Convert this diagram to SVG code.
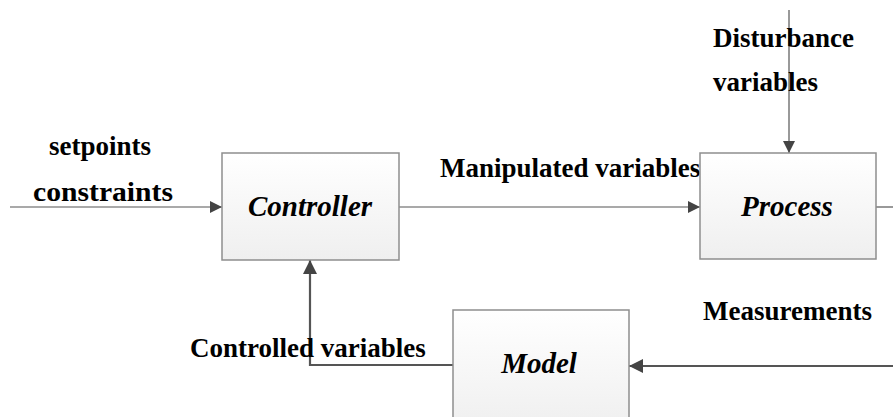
<svg xmlns="http://www.w3.org/2000/svg" width="893" height="417" viewBox="0 0 893 417" font-family="Liberation Serif, Times New Roman, serif">
  <defs>
    <linearGradient id="boxFill" x1="0" y1="0" x2="0" y2="1">
      <stop offset="0" stop-color="#ffffff"/>
      <stop offset="1" stop-color="#efefef"/>
    </linearGradient>
    <marker id="arrow" viewBox="0 0 12 12" refX="12" refY="6" markerWidth="12" markerHeight="12" markerUnits="userSpaceOnUse" orient="auto">
      <path d="M0,0 L12,6 L0,12 Z" fill="#444"/>
    </marker>
    <marker id="arrowBig" viewBox="0 0 14 14" refX="14" refY="7" markerWidth="14" markerHeight="14" markerUnits="userSpaceOnUse" orient="auto">
      <path d="M0,0 L14,7 L0,14 Z" fill="#444"/>
    </marker>
  </defs>
  <style>
    .box { fill: url(#boxFill); stroke: #8e8e8e; stroke-width: 1.5; }
    .title { font-size: 29px; font-weight: bold; font-style: italic; fill: #000; text-anchor: middle; }
    .label { font-size: 27px; font-weight: bold; fill: #000; }
    .thin { fill: none; stroke: #555; stroke-width: 1.2; }
    .thick { fill: none; stroke: #555; stroke-width: 2.2; }
  </style>

  <rect width="893" height="417" fill="#fff"/>

  <!-- signal flow -->
  <g id="connectors">
    <path class="thin" d="M10,207 H222" marker-end="url(#arrow)"/>
    <path class="thin" d="M399,207 H700" marker-end="url(#arrow)"/>
    <path class="thin" d="M789,10 V153" marker-end="url(#arrow)"/>
    <path class="thin" d="M876,207 H893"/>
    <path class="thick" d="M893,366 H629" marker-end="url(#arrowBig)"/>
    <path class="thick" d="M453,365 H310 V260" marker-end="url(#arrowBig)"/>
  </g>

  <!-- signal names -->
  <g id="labels">
    <text class="label" x="49" y="155">setpoints</text>
    <text class="label" x="33" y="201" textLength="140" lengthAdjust="spacingAndGlyphs">constraints</text>
    <text class="label" x="440" y="177">Manipulated variables</text>
    <text class="label" x="713" y="47">Disturbance</text>
    <text class="label" x="713" y="91">variables</text>
    <text class="label" x="703" y="320">Measurements</text>
    <text class="label" x="190" y="357">Controlled variables</text>
  </g>

  <g id="controller">
    <rect class="box" x="222" y="153" width="177" height="107"/>
    <text class="title" x="310" y="216">Controller</text>
  </g>

  <g id="process">
    <rect class="box" x="700" y="153" width="176" height="106"/>
    <text class="title" x="787" y="216">Process</text>
  </g>

  <g id="model">
    <rect class="box" x="453" y="310" width="176" height="120"/>
    <text class="title" x="539" y="373">Model</text>
  </g>
</svg>
